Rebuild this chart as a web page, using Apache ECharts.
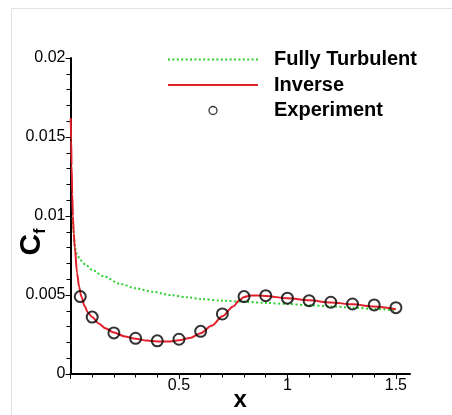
<!DOCTYPE html>
<html><head><meta charset="utf-8">
<script src="https://cdn.jsdelivr.net/npm/echarts@6/dist/echarts.min.js"></script>
<style>html,body{margin:0;padding:0;background:#fff}#c{width:452px;height:415px}</style>
</head><body><div id="c"></div>
<script>
// Experiment (circles)
const expX = [0.045, 0.1, 0.2, 0.3, 0.4, 0.5, 0.6, 0.7, 0.8, 0.9, 1.0, 1.1, 1.2, 1.3, 1.4, 1.5];
const expY = [0.0049, 0.0036, 0.0026, 0.00226, 0.0021, 0.0022, 0.0027, 0.0038, 0.0049, 0.00496, 0.0048, 0.00464, 0.00454, 0.00443, 0.00437, 0.0042];
// Inverse (red solid)
const invX = [0.001, 0.003, 0.005, 0.008, 0.011, 0.015, 0.02, 0.03, 0.04, 0.05, 0.065, 0.08, 0.1, 0.13, 0.16, 0.2, 0.25, 0.3, 0.35, 0.4, 0.45, 0.5, 0.55, 0.6, 0.65, 0.7, 0.75, 0.78, 0.8, 0.83, 0.87, 0.9, 1.0, 1.1, 1.2, 1.3, 1.4, 1.5];
const invY = [0.0162, 0.0148, 0.0132, 0.0114, 0.0100, 0.0089, 0.0080, 0.0064, 0.0055, 0.0049, 0.0043, 0.0039, 0.0036, 0.0032, 0.0029, 0.00262, 0.00238, 0.00223, 0.00212, 0.00206, 0.00206, 0.00213, 0.00228, 0.00258, 0.00305, 0.00365, 0.00428, 0.00468, 0.00487, 0.00497, 0.00497, 0.00494, 0.00479, 0.00466, 0.00453, 0.00441, 0.00427, 0.0041];
// Fully Turbulent (green dotted)
const turbX = [0.01, 0.015, 0.02, 0.03, 0.045, 0.07, 0.1, 0.15, 0.23, 0.3, 0.38, 0.46, 0.54, 0.6, 0.7, 0.8, 0.9, 1.0, 1.1, 1.2, 1.3, 1.4, 1.5];
const turbY = [0.0099, 0.0089, 0.0080, 0.0076, 0.0072, 0.0069, 0.0066, 0.0062, 0.0057, 0.00542, 0.0052, 0.0050, 0.00485, 0.00475, 0.00464, 0.00457, 0.0045, 0.00443, 0.00435, 0.00428, 0.0042, 0.00412, 0.00403];
// Axis ticks
const xMajorTicks = [0, 0.5, 1, 1.5];
const xLabels = [0.5, 1, 1.5];
const xMinorTicks = [0.1, 0.2, 0.3, 0.4, 0.6, 0.7, 0.8, 0.9, 1.1, 1.2, 1.3, 1.4];
const seriesNames = ['Fully Turbulent', 'Inverse', 'Experiment'];

const zip = (a, b) => a.map((v, i) => [v, b[i]]);
const chart = echarts.init(document.getElementById('c'), null, {renderer: 'canvas'});
const FONT = '"Liberation Sans", Arial, Helvetica, sans-serif';
chart.setOption({
  animation: false,
  backgroundColor: '#fff',
  textStyle: {fontFamily: FONT},
  grid: {left: 70.5, top: 58, right: 42, bottom: 41, containLabel: false, outerBoundsMode: 'none'},
  graphic: [{
    type: 'polyline', silent: true,
    shape: {points: [[11.5, 415], [11.5, 8.5], [452, 8.5]]},
    style: {stroke: '#e2e2e2', lineWidth: 1, fill: null}
  }],
  legend: {
    left: 167, top: 49.5, orient: 'vertical', selectedMode: false, padding: 0,
    itemWidth: 90, itemHeight: 8, itemGap: 5.5,
    textStyle: {fontFamily: FONT, fontSize: 20, fontWeight: 'bold', color: '#000', padding: [0, 0, 0, 11], lineHeight: 18},
    data: [
      {name: seriesNames[0], itemStyle: {opacity: 0}},
      {name: seriesNames[1], itemStyle: {opacity: 0}},
      {name: seriesNames[2], icon: 'circle', itemStyle: {color: '#fff', borderColor: '#000', borderWidth: 1.3}}
    ]
  },
  xAxis: [{
    type: 'value', min: 0, max: 1.565, position: 'bottom',
    axisLine: {show: true, onZero: false, lineStyle: {color: '#000', width: 2}},
    axisTick: {show: true, customValues: xMajorTicks, length: 5, lineStyle: {color: '#000', width: 1}},
    axisLabel: {customValues: xLabels, fontSize: 16, color: '#000', margin: 4, fontFamily: FONT},
    splitLine: {show: false},
    name: 'x', nameLocation: 'middle', nameGap: 14, nameMoveOverlap: false,
    nameTextStyle: {fontSize: 24, fontWeight: 'bold', color: '#000', fontFamily: FONT}
  }, {
    type: 'value', min: 0, max: 1.565, position: 'bottom', gridIndex: 0,
    axisLine: {show: false},
    axisTick: {show: true, customValues: xMinorTicks, length: 3.5, lineStyle: {color: '#000', width: 1}},
    axisLabel: {show: false},
    splitLine: {show: false}
  }],
  yAxis: {
    type: 'value', min: 0, max: 0.02, interval: 0.005,
    axisLine: {show: true, onZero: false, lineStyle: {color: '#000', width: 2}},
    axisTick: {show: true, length: 5, lineStyle: {color: '#000', width: 1}},
    minorTick: {show: true, splitNumber: 5, length: 4, lineStyle: {color: '#000', width: 1}},
    axisLabel: {fontSize: 16, color: '#000', margin: 5, fontFamily: FONT},
    splitLine: {show: false}, minorSplitLine: {show: false},
    name: '{c|C}{f|f}', nameLocation: 'middle', nameGap: 22, nameRotate: 90, nameMoveOverlap: false,
    nameTextStyle: {
      padding: [0, 52, 0, 0],
      rich: {
        c: {fontSize: 30, fontWeight: 'bold', color: '#000', fontFamily: FONT, lineHeight: 34},
        f: {fontSize: 16, fontWeight: 'bold', color: '#000', fontFamily: FONT, verticalAlign: 'bottom', lineHeight: 16}
      }
    }
  },
  series: [{
    name: seriesNames[0], type: 'line', data: zip(turbX, turbY), symbol: 'none',
    smooth: 0.3, smoothMonotone: 'x', color: '#2fd02f',
    lineStyle: {color: '#2fd02f', width: 2, type: [2, 2.4]}, z: 2
  }, {
    name: seriesNames[1], type: 'line', data: zip(invX, invY), symbol: 'none',
    smooth: 0.3, smoothMonotone: 'x', color: '#e0202a',
    lineStyle: {color: '#e0202a', width: 2}, z: 3
  }, {
    name: seriesNames[2], type: 'scatter', data: zip(expX, expY),
    symbol: 'circle', symbolSize: 11,
    itemStyle: {color: 'rgba(255,255,255,0)', borderColor: '#000', borderWidth: 2}, z: 4
  }]
});
</script></body></html>
